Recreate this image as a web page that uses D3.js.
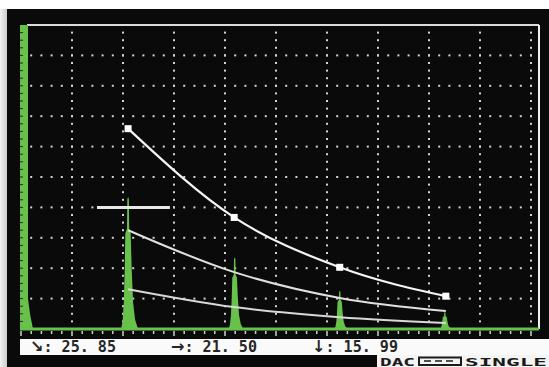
<!DOCTYPE html>
<html>
<head>
<meta charset="utf-8">
<script src="https://cdn.jsdelivr.net/npm/d3@7"></script>
<style>
  html, body { margin: 0; padding: 0; background: #fff; overflow: hidden; }
</style>
</head>
<body>
<div id="chart"></div>
<script>
// echoes on the A-scan: position in screen divisions, height in % of full screen
const echoPos = [2.10, 4.19, 6.25, 8.31];
const echoAmp = [43.5, 23.5, 12.5, 5.5];

// DAC reference points and the two lower evaluation curves
const dacPos  = [2.10, 4.18, 6.25, 8.33];
const dacMain = [65.9, 36.7, 20.3, 10.8];
const dacMid  = [32.5, 18.7, 10.2, 5.9];
const dacLow  = [13.1, 7.2, 3.9, 2.0];

// gate bar
const gateRange = [1.49, 2.92];
const gateLevel = 40;

// readouts under the screen
const readArrows = ["↘", "→", "↓"];
const readValues = [": 25. 85", ": 21. 50", ": 15. 99"];
const statusLeft = "DAC";
const statusRight = "SINGLE";

const W = 549, H = 367;
const green = "#67c14b";

const svg = d3.select("#chart").append("svg")
    .attr("width", W)
    .attr("height", H)
    .style("display", "block");

const defs = svg.append("defs");
const grad = defs.append("linearGradient").attr("id", "edge");
grad.append("stop").attr("offset", "0%").attr("stop-color", "#f2f2f2");
grad.append("stop").attr("offset", "100%").attr("stop-color", "#c8c8c8");

// screen background
svg.append("rect").attr("x", 0).attr("y", 9).attr("width", 8).attr("height", H - 9).attr("fill", "url(#edge)");
svg.append("rect").attr("x", 7).attr("y", 9).attr("width", W - 7).attr("height", H - 9).attr("fill", "#0a0a0a");

const x = d3.scaleLinear().domain([0, 10]).range([21, 531]);
const y = d3.scaleLinear().domain([0, 100]).range([329, 25]);

// dotted grid
const grid = svg.append("g").attr("fill", "#d4d4d4");
const xMinor = d3.range(1, 51).map(d => d / 5);
const yMinor = d3.range(1, 40).map(d => d * 2.5);
d3.range(10, 100, 10).forEach(v => {
  grid.selectAll(null)
    .data(xMinor)
    .join("rect")
      .attr("x", d => x(d) - 1)
      .attr("y", y(v) - 1)
      .attr("width", 2)
      .attr("height", 2);
});
d3.range(1, 11).forEach(v => {
  grid.selectAll(null)
    .data(yMinor)
    .join("rect")
      .attr("x", x(v) - 1)
      .attr("y", d => y(d) - 1)
      .attr("width", 2)
      .attr("height", 2);
});

// frame
svg.append("line")
    .attr("x1", 27).attr("x2", 539)
    .attr("y1", y(100)).attr("y2", y(100))
    .attr("stroke", "#dcdcdc").attr("stroke-width", 2);
svg.append("line")
    .attr("x1", 539).attr("x2", 539)
    .attr("y1", y(100)).attr("y2", y(0))
    .attr("stroke", "#f0f0f0").attr("stroke-width", 2);

// bottom tick marks
svg.append("g")
    .attr("stroke", "#cfcfcf")
    .attr("stroke-width", 1.5)
  .selectAll()
  .data(d3.range(0, 51).map(d => d / 5))
  .join("line")
    .attr("x1", d => x(d)).attr("x2", d => x(d))
    .attr("y1", y(0) + 2)
    .attr("y2", (d, i) => y(0) + (i % 5 === 0 ? 7 : 5));

// initial pulse
const pulse = [[-1, 0], [-1, 100], [7, 100], [7, 10], [9, 5], [12, 0]];
svg.append("path")
    .attr("fill", green)
    .attr("d", d3.line().x(d => x(0) + d[0]).y(d => y(d[1]))(pulse));
svg.append("g")
    .attr("stroke", "#3a1f3a")
    .attr("stroke-width", 1)
  .selectAll()
  .data(yMinor)
  .join("line")
    .attr("x1", 20).attr("x2", 23)
    .attr("y1", d => y(d)).attr("y2", d => y(d));

// echoes: a thin spike on a wider column and foot
const profile = [[-7, 0], [-5.5, 0.06], [-4.3, 0.2], [-3.4, 0.45], [-2.8, 0.72],
                 [-1.1, 0.76], [-0.8, 0.98], [0, 1], [0.8, 0.98], [1.1, 0.76],
                 [2.6, 0.72], [3.6, 0.45], [5, 0.2], [7, 0.07], [10, 0]];
const maxAmp = d3.max(echoAmp);
svg.append("g")
    .attr("fill", green)
  .selectAll()
  .data(echoPos.map((p, i) => ({ p, a: echoAmp[i] })))
  .join("path")
    .attr("d", d => {
      const w = 0.7 + 0.3 * d.a / maxAmp;
      return d3.line()
        .x(q => x(d.p) + q[0] * w)
        .y(q => y(d.a * q[1]))(profile) + "Z";
    });

// baseline
svg.append("line")
    .attr("x1", 20).attr("x2", 539)
    .attr("y1", y(0)).attr("y2", y(0))
    .attr("stroke", green).attr("stroke-width", 3);

// DAC curves
const curve = d3.line()
    .x((d, i) => x(dacPos[i]))
    .y(d => y(d))
    .curve(d3.curveMonotoneX);

svg.append("path")
    .attr("d", curve(dacLow))
    .attr("fill", "none").attr("stroke", "#d8d8d8").attr("stroke-width", 2);
svg.append("path")
    .attr("d", curve(dacMid))
    .attr("fill", "none").attr("stroke", "#e0e0e0").attr("stroke-width", 2);
svg.append("path")
    .attr("d", curve(dacMain))
    .attr("fill", "none").attr("stroke", "#f4f4f4").attr("stroke-width", 2.2);
svg.append("g")
    .attr("fill", "#fff")
  .selectAll()
  .data(dacMain)
  .join("rect")
    .attr("x", (d, i) => x(dacPos[i]) - 3.5)
    .attr("y", d => y(d) - 3.5)
    .attr("width", 7).attr("height", 7);

// gate
svg.append("line")
    .attr("x1", x(gateRange[0])).attr("x2", x(gateRange[1]))
    .attr("y1", y(gateLevel)).attr("y2", y(gateLevel))
    .attr("stroke", "#e8e8e8").attr("stroke-width", 3);

// readout bar
svg.append("rect").attr("x", 20).attr("y", 339).attr("width", W - 20).attr("height", 16).attr("fill", "#fafafa");
svg.append("rect").attr("x", 377).attr("y", 355).attr("width", W - 377).attr("height", 12).attr("fill", "#f4f4f4");

const readX = [30, 171, 312];
const reads = svg.append("g")
    .attr("font-family", "'DejaVu Sans Mono', monospace")
    .attr("font-weight", "bold")
    .attr("fill", "#262626")
  .selectAll()
  .data(readValues)
  .join("text")
    .attr("x", (d, i) => readX[i])
    .attr("y", 352)
    .attr("textLength", 86)
    .attr("lengthAdjust", "spacingAndGlyphs");
reads.append("tspan")
    .attr("font-family", "'DejaVu Sans', sans-serif")
    .attr("font-size", 16.5)
    .text((d, i) => readArrows[i]);
reads.append("tspan")
    .attr("font-size", 15.5)
    .text(d => d);

const status = svg.append("g")
    .attr("font-family", "'DejaVu Sans Mono', monospace")
    .attr("font-weight", "bold")
    .attr("font-size", 10.5)
    .attr("fill", "#1a1a1a");
status.append("text")
    .attr("x", 380).attr("y", 366)
    .attr("textLength", 35).attr("lengthAdjust", "spacingAndGlyphs")
    .text(statusLeft);
status.append("text")
    .attr("x", 465).attr("y", 366)
    .attr("textLength", 82).attr("lengthAdjust", "spacingAndGlyphs")
    .text(statusRight);

// probe-mode box symbol
const box = svg.append("g").attr("stroke", "#1a1a1a").attr("fill", "none");
box.append("rect").attr("x", 419).attr("y", 357.5).attr("width", 42).attr("height", 7.5).attr("stroke-width", 2);
box.selectAll("line")
  .data([0, 1, 2])
  .join("line")
    .attr("x1", d => 424 + d * 11).attr("x2", d => 431 + d * 11)
    .attr("y1", 361).attr("y2", 361)
    .attr("stroke-width", 1.5);
</script>
</body>
</html>
